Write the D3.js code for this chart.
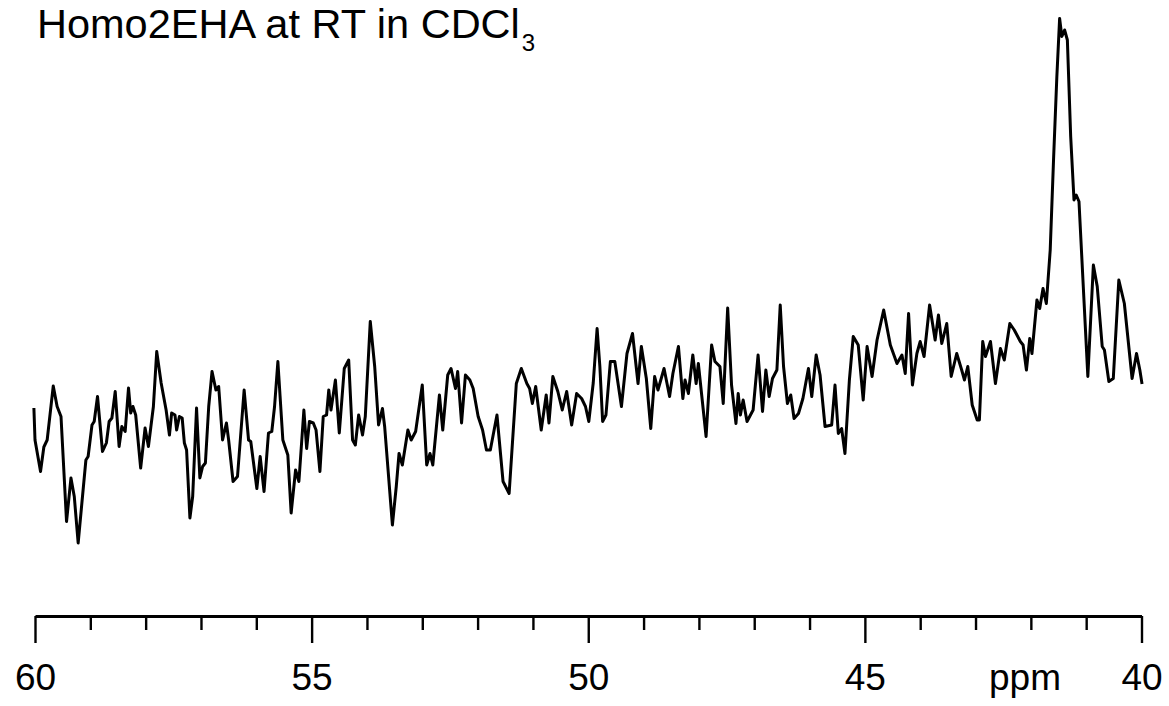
<!DOCTYPE html>
<html>
<head>
<meta charset="utf-8">
<script src="https://cdn.jsdelivr.net/npm/d3@7"></script>
<style>
  body { margin: 0; background: #fff; }
  text { font-family: "Liberation Sans", Arial, sans-serif; fill: #000; }
</style>
</head>
<body>
<div id="spectrum"></div>
<script>
// 13C spectrum, chemical shift (ppm) and intensity (arbitrary units)
var ppm = [60.02, 60.00, 59.90, 59.84, 59.78, 59.67, 59.60, 59.53, 59.43, 59.35, 59.29, 59.22, 59.08, 59.04,
  58.97, 58.93, 58.87, 58.78, 58.71, 58.66, 58.61, 58.55, 58.48, 58.43, 58.37, 58.31, 58.27, 58.23, 58.18,
  58.09, 58.01, 57.95, 57.86, 57.80, 57.72, 57.63, 57.57, 57.53, 57.47, 57.44, 57.39, 57.34, 57.30, 57.26,
  57.20, 57.15, 57.08, 57.02, 56.97, 56.92, 56.86, 56.80, 56.73, 56.68, 56.61, 56.54, 56.50, 56.42, 56.34,
  56.22, 56.14, 56.10, 55.99, 55.93, 55.86, 55.78, 55.72, 55.67, 55.61, 55.52, 55.43, 55.37, 55.29, 55.23,
  55.14, 55.09, 55.04, 54.97, 54.92, 54.85, 54.79, 54.73, 54.69, 54.65, 54.57, 54.50, 54.41, 54.33, 54.26,
  54.21, 54.15, 54.08, 54.03, 53.94, 53.86, 53.79, 53.72, 53.68, 53.54, 53.47, 53.42, 53.36, 53.26, 53.20,
  53.12, 53.00, 52.92, 52.86, 52.81, 52.69, 52.63, 52.54, 52.48, 52.40, 52.36, 52.29, 52.22, 52.14, 52.08,
  51.99, 51.91, 51.84, 51.77, 51.65, 51.54, 51.43, 51.30, 51.21, 51.11, 51.06, 51.01, 50.95, 50.85, 50.76,
  50.71, 50.64, 50.55, 50.47, 50.39, 50.30, 50.21, 50.12, 50.05, 49.99, 49.91, 49.84, 49.79, 49.74, 49.68,
  49.60, 49.52, 49.40, 49.30, 49.20, 49.10, 49.04, 48.95, 48.87, 48.80, 48.74, 48.63, 48.53, 48.47, 48.37,
  48.29, 48.25, 48.19, 48.11, 48.05, 48.01, 47.87, 47.77, 47.71, 47.62, 47.56, 47.48, 47.41, 47.33, 47.29,
  47.25, 47.20, 47.13, 47.02, 46.93, 46.85, 46.79, 46.73, 46.67, 46.59, 46.53, 46.47, 46.40, 46.34, 46.28,
  46.20, 46.12, 46.02, 45.96, 45.88, 45.81, 45.72, 45.60, 45.54, 45.48, 45.42, 45.36, 45.28, 45.21, 45.12,
  45.03, 44.96, 44.87, 44.78, 44.66, 44.54, 44.42, 44.33, 44.27, 44.21, 44.14, 44.06, 44.00, 43.93, 43.83,
  43.73, 43.67, 43.61, 43.52, 43.44, 43.34, 43.25, 43.20, 43.14, 43.06, 42.97, 42.93, 42.87, 42.82, 42.73,
  42.64, 42.55, 42.48, 42.38, 42.30, 42.19, 42.14, 42.08, 42.02, 41.98, 41.89, 41.84, 41.78, 41.72, 41.65,
  41.59, 41.53, 41.48, 41.44, 41.39, 41.34, 41.28, 41.22, 41.18, 41.13, 41.04, 40.97, 40.87, 40.80, 40.71,
  40.67, 40.59, 40.51, 40.41, 40.31, 40.17, 40.09, 40.03, 39.99];

var intensity = [30.4, 24.0, 17.7, 22.6, 24.0, 34.8, 30.7, 28.7, 7.7, 16.4, 12.7, 3.4, 20.0, 20.7,
  27.0, 27.7, 32.7, 21.7, 23.4, 27.7, 28.4, 33.7, 22.7, 26.7, 25.7, 34.4, 29.4, 30.7, 29.0,
  18.4, 26.4, 22.7, 30.7, 41.7, 35.4, 30.0, 25.0, 29.4, 29.0, 26.0, 28.7, 28.4, 23.4, 22.0,
  8.4, 12.7, 30.4, 16.4, 18.7, 19.4, 30.7, 37.7, 34.0, 34.7, 24.0, 27.4, 24.0, 15.7, 16.7,
  34.0, 24.0, 23.7, 14.3, 20.7, 13.7, 25.4, 25.7, 30.7, 39.7, 24.0, 21.0, 9.4, 18.0, 15.7,
  30.0, 22.3, 27.7, 27.4, 26.0, 17.7, 28.7, 29.0, 34.0, 30.0, 36.0, 25.4, 38.3, 40.0, 24.0,
  23.0, 29.0, 25.0, 28.7, 47.7, 38.7, 27.0, 30.3, 26.7, 7.0, 14.7, 21.3, 19.0, 26.0, 24.0,
  25.7, 35.0, 19.0, 21.3, 19.0, 33.0, 26.0, 37.0, 38.3, 34.3, 37.7, 27.4, 37.0, 36.0, 34.3,
  28.7, 26.0, 22.0, 22.0, 29.0, 15.7, 13.3, 35.3, 38.3, 35.3, 34.3, 31.3, 34.7, 26.0, 33.0,
  27.4, 36.7, 33.7, 30.0, 33.7, 27.0, 33.3, 32.3, 30.7, 27.7, 35.4, 46.3, 38.7, 27.7, 29.0,
  39.7, 39.7, 30.7, 41.3, 45.3, 35.3, 42.7, 36.3, 26.3, 36.7, 34.0, 38.3, 32.7, 37.3, 42.7,
  32.3, 36.0, 33.3, 41.0, 35.3, 39.3, 24.7, 43.0, 39.7, 38.7, 31.3, 50.4, 35.0, 27.3, 33.3,
  29.0, 32.0, 27.7, 30.0, 41.0, 29.7, 38.0, 32.7, 36.3, 38.0, 51.0, 38.7, 31.3, 33.0, 28.3,
  29.3, 32.3, 38.3, 32.7, 41.0, 37.0, 26.7, 27.0, 35.0, 25.3, 26.3, 21.3, 36.0, 44.7, 43.0,
  32.0, 42.7, 36.7, 44.0, 50.0, 43.0, 39.3, 41.0, 37.3, 49.3, 35.0, 41.3, 43.7, 40.7, 51.0,
  44.0, 49.0, 43.3, 47.3, 36.7, 41.3, 38.0, 36.0, 38.7, 31.0, 28.0, 28.0, 43.7, 40.7, 43.7,
  35.3, 42.3, 40.0, 47.3, 46.0, 43.7, 43.0, 38.0, 44.3, 41.3, 52.0, 50.3, 54.3, 51.3, 62.0,
  80.0, 96.7, 108.3, 104.7, 106.0, 104.0, 84.7, 72.0, 73.0, 71.7, 52.0, 36.7, 59.0, 54.7, 42.7,
  42.0, 35.7, 36.3, 56.0, 51.3, 36.3, 41.3, 38.0, 35.2];

var majorTicks = [60, 55, 50, 45, 40];
var axisTitle = "ppm";

var width = 1169, height = 706;

var svg = d3.select("#spectrum")
  .append("svg")
    .attr("width", width)
    .attr("height", height);

var x = d3.scaleLinear()
  .domain([60, 40])
  .range([35, 1141.5]);

var y = d3.scaleLinear()
  .domain([0, 110])
  .range([560, 10]);

var axisY = 616;

// minor ticks every 1 ppm
var minorTicks = x.ticks(20).filter(function(d) { return d % 5 !== 0; });

svg.append("g")
  .attr("transform", "translate(0," + axisY + ")")
  .call(d3.axisBottom(x).tickValues(minorTicks).tickSize(14).tickSizeOuter(0).tickFormat(""))
  .call(function(g) { g.select(".domain").remove(); })
  .selectAll("line")
    .attr("stroke", "#000")
    .attr("stroke-width", 2.4);

var xAxis = svg.append("g")
  .attr("transform", "translate(0," + axisY + ")")
  .call(d3.axisBottom(x).tickValues(majorTicks).tickSize(27).tickSizeOuter(0).tickPadding(21).tickFormat(d3.format("d")));

xAxis.select(".domain")
  .attr("stroke", "#000")
  .attr("stroke-width", 3);
xAxis.selectAll(".tick line")
  .attr("stroke", "#000")
  .attr("stroke-width", 2.4);
xAxis.selectAll(".tick text")
  .style("font-family", "'Liberation Sans', Arial, sans-serif")
  .style("font-size", "37px")
  .attr("fill", "#000");

svg.append("text")
  .attr("x", 1025)
  .attr("y", 690)
  .attr("text-anchor", "middle")
  .style("font-size", "37px")
  .text(axisTitle);

// the trace
var points = ppm.map(function(d, i) { return [d, intensity[i]]; });

var line = d3.line()
  .x(function(d) { return x(d[0]); })
  .y(function(d) { return y(d[1]); });

svg.append("path")
  .datum(points)
  .attr("fill", "none")
  .attr("stroke", "#000")
  .attr("stroke-width", 3)
  .attr("stroke-linejoin", "round")
  .attr("d", line);

// title
var title = svg.append("text")
  .attr("x", 37)
  .attr("y", 38)
  .style("font-size", "41.5px");
title.append("tspan").text("Homo2EHA at RT in CDCl");
title.append("tspan")
  .attr("dx", 2)
  .attr("dy", 13)
  .style("font-size", "24px")
  .text("3");
</script>
</body>
</html>
